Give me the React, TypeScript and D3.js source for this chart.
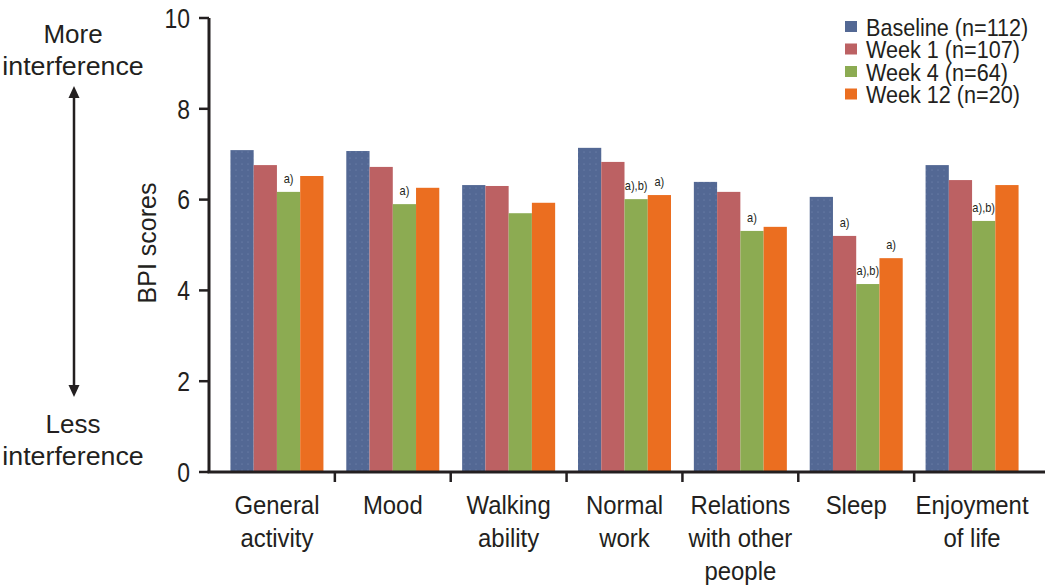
import React from "react";
import * as d3 from "d3";

const categories = [
  ["General", "activity"],
  ["Mood"],
  ["Walking", "ability"],
  ["Normal", "work"],
  ["Relations", "with other", "people"],
  ["Sleep"],
  ["Enjoyment", "of life"],
];
const seriesNames = ["Baseline (n=112)", "Week 1 (n=107)", "Week 4 (n=64)", "Week 12 (n=20)"];
const baseline = [7.09, 7.07, 6.32, 7.14, 6.39, 6.06, 6.76];
const week1 = [6.76, 6.72, 6.3, 6.83, 6.17, 5.2, 6.43];
const week4 = [6.17, 5.9, 5.7, 6.01, 5.31, 4.14, 5.53];
const week12 = [6.52, 6.26, 5.93, 6.1, 5.4, 4.71, 6.32];
// annotations: [category index, series index, label]
const annotations: [number, number, string][] = [
  [0, 2, "a)"],
  [1, 2, "a)"],
  [3, 2, "a),b)"],
  [3, 3, "a)"],
  [4, 2, "a)"],
  [5, 1, "a)"],
  [5, 2, "a),b)"],
  [5, 3, "a)"],
  [6, 2, "a),b)"],
];
const yTicks = [0, 2, 4, 6, 8, 10];
const colors = ["#536894", "#BC6163", "#8CAB52", "#EB6E20"];

const FONT = "'Liberation Sans', Arial, sans-serif";
const INK = "#231f20";

function CText(props: {
  x: number; y: number; size: number; sx?: number; anchor?: "start" | "middle" | "end";
  dy?: string; children: React.ReactNode;
}) {
  const { x, y, size, sx = 0.88, anchor = "start", dy, children } = props;
  return (
    <g transform={`translate(${x},${y}) scale(${sx},1)`}>
      <text x={0} y={0} dy={dy} textAnchor={anchor} fontSize={size} fill={INK}>
        {children}
      </text>
    </g>
  );
}

export default function App() {
  const W = 1051, H = 588;
  const x0 = 219, x1 = 1030;
  const axisX = 209, axisRight = 1045;
  const y = d3.scaleLinear().domain([0, 10]).range([472, 18]);
  const x = d3.scaleBand<number>().domain(d3.range(categories.length)).range([x0, x1]).paddingInner(0).paddingOuter(0);
  const groupW = 93;
  const inner = d3.scaleBand<number>().domain([0, 1, 2, 3]).range([0, groupW]).padding(0);
  const series = [baseline, week1, week4, week12];
  const boundaries = d3.range(1, categories.length).map((i) => x(i)!);

  return (
    <svg width={W} height={H} style={{ position: "absolute", left: 0, top: 0, background: "#fff" }}
      fontFamily={FONT}>
      <defs>
        <pattern id="dots" width="6" height="6" patternUnits="userSpaceOnUse">
          <rect width="6" height="6" fill={colors[0]} />
          <circle cx="2" cy="2" r="0.5" fill="#7f92b8" />
        </pattern>
      </defs>
      {/* bars */}
      {series.map((vals, s) =>
        vals.map((v, c) => {
          const bx = x(c)! + (x.bandwidth() - groupW) / 2 + inner(s)!;
          return (
            <rect key={`${s}-${c}`} x={bx} y={y(v)} width={inner.bandwidth()} height={y(0) - y(v)}
              fill={s === 0 ? "url(#dots)" : colors[s]} />
          );
        })
      )}
      {/* annotations */}
      {annotations.map(([c, s, t], i) => {
        const bx = x(c)! + (x.bandwidth() - groupW) / 2 + inner(s)! + inner.bandwidth() / 2;
        return (
          <CText key={i} x={bx} y={y(series[s][c]) - 9} size={13} sx={0.85} anchor="middle">
            {t}
          </CText>
        );
      })}
      {/* axes */}
      <line x1={axisX} x2={axisX} y1={y(10)} y2={y(0)} stroke={INK} strokeWidth={3} />
      <line x1={axisX - 1.5} x2={axisRight} y1={y(0)} y2={y(0)} stroke={INK} strokeWidth={3} />
      {yTicks.map((t) => (
        <g key={t}>
          <line x1={axisX - 10} x2={axisX} y1={y(t)} y2={y(t)} stroke={INK} strokeWidth={2.5} />
          <CText x={axisX - 19} y={y(t)} dy="0.36em" anchor="end" size={27} sx={0.85}>
            {t}
          </CText>
        </g>
      ))}
      {boundaries.map((b, i) => (
        <line key={i} x1={b} x2={b} y1={y(0)} y2={y(0) + 10} stroke={INK} strokeWidth={2.5} />
      ))}
      {categories.map((lines, c) =>
        lines.map((l, k) => (
          <CText key={`${c}-${k}`} x={x(c)! + x.bandwidth() / 2} y={514 + k * 33} size={26} sx={0.92} anchor="middle">
            {l}
          </CText>
        ))
      )}
      {/* y axis title */}
      <g transform={`translate(156,243) rotate(-90)`}>
        <text x={0} y={0} textAnchor="middle" fontSize={25} fill={INK}>BPI scores</text>
      </g>
      {/* left annotation */}
      <CText x={73} y={43} size={26} sx={1.0} anchor="middle">More</CText>
      <CText x={73} y={75} size={26} sx={1.03} anchor="middle">interference</CText>
      <CText x={73} y={433} size={26} sx={1.0} anchor="middle">Less</CText>
      <CText x={73} y={465} size={26} sx={1.03} anchor="middle">interference</CText>
      <line x1={74} x2={74} y1={96} y2={387} stroke={INK} strokeWidth={2.5} />
      <path d="M74,86 L68.5,98 L79.5,98 Z" fill={INK} />
      <path d="M74,397 L68.5,385 L79.5,385 Z" fill={INK} />
      {/* legend */}
      {seriesNames.map((n, i) => (
        <g key={n}>
          <rect x={845} y={21 + i * 22.5} width={12} height={11} fill={colors[i]} />
          <CText x={866} y={27 + i * 22.5} dy="0.36em" size={24} sx={0.9}>{n}</CText>
        </g>
      ))}
    </svg>
  );
}
